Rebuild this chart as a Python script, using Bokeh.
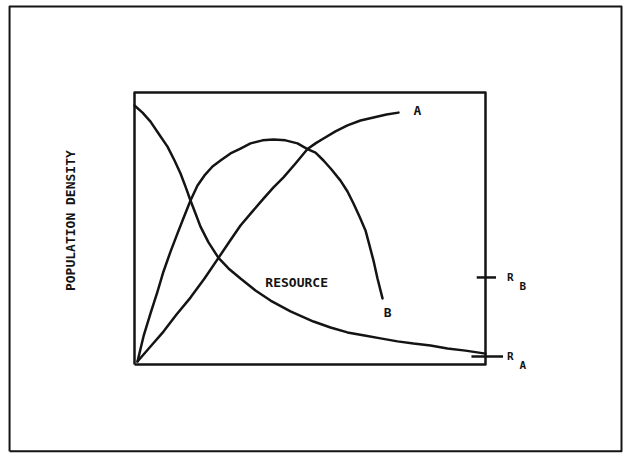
import math
from bokeh.plotting import figure
from bokeh.models import Range1d
from bokeh.core.properties import value
from bokeh.embed import file_html
from bokeh.resources import INLINE

# ---- data (resource axis 0..100, population density 0..100) ----
resource_x = [0, 2.28, 4.56, 6.84, 9.40, 11.40, 13.11, 14.53, 15.95, 17.38, 18.80, 21.08, 23.93,
              26.78, 30.20, 34.47, 38.75, 44.44, 51.00, 55.84, 60.68, 65.53, 70.09, 74.93,
              79.49, 84.33, 89.17, 94.30, 100]
resource_y = [95.2, 92.6, 89.3, 84.9, 80.1, 75.0, 70.2, 65.4, 60.3, 55.5, 50.7, 44.9, 39.2,
              35.3, 31.6, 27.2, 23.5, 19.5, 15.8, 13.6, 11.8, 10.7, 9.6, 8.5,
              7.7, 7.0, 5.9, 5.1, 4.0]

pop_a_x = [0.85, 4.56, 8.26, 11.97, 15.95, 19.94, 23.93, 27.07, 30.20, 33.62, 36.75, 39.60,
           42.45, 45.87, 49.29, 51.57, 53.85, 57.26, 60.68, 64.39, 68.09, 71.79, 75.21]
pop_a_y = [1.1, 6.6, 12.1, 18.4, 24.6, 31.6, 39.2, 45.2, 51.1, 56.3, 61.0, 65.1,
           68.8, 73.9, 79.2, 81.3, 83.1, 85.7, 87.9, 89.7, 90.8, 91.9, 92.6]

pop_b_x = [0.85, 2.56, 4.56, 6.55, 8.26, 10.26, 12.25, 14.25, 15.95, 17.95, 19.94, 22.22,
           24.50, 27.35, 30.20, 33.05, 36.47, 39.60, 43.02, 46.44, 49.29, 51.57, 53.85,
           56.13, 58.69, 60.68, 62.39, 64.10, 65.81, 66.95, 68.09, 69.23, 70.66]
pop_b_y = [1.1, 10.3, 18.8, 26.8, 34.2, 41.5, 48.2, 54.8, 60.3, 65.8, 69.5, 72.8,
           75.0, 77.6, 79.4, 81.3, 82.4, 82.7, 82.4, 81.3, 79.2, 77.9, 75.0,
           71.7, 67.6, 63.6, 59.2, 54.4, 49.3, 43.8, 38.2, 31.6, 24.3]

box_x = [0, 0, 100, 100, 0]
box_y = [0, 100, 100, 0, 0]

r_levels = [32.0, 2.9]          # R_B, R_A on the right edge
r_names = ["B", "A"]

curve_labels = ["A", "B", "RESOURCE"]
curve_label_x = [80.6, 72.1, 46.2]
curve_label_y = [93.4, 19.1, 30.1]

y_title = "POPULATION DENSITY"

# ---- figure ----
p = figure(width=623, height=453, output_backend="svg", toolbar_location=None,
           x_range=Range1d(-38.18, 139.32), y_range=Range1d(-32.72, 133.82),
           x_axis_type=None, y_axis_type=None, min_border=0)
p.xgrid.visible = False
p.ygrid.visible = False
p.outline_line_color = None
p.background_fill_color = "white"
p.border_fill_color = "white"

ink = "#141414"

# outer frame
p.line([-35.6, -35.6, 138.75, 138.75, -35.6], [-31.9, 131.6, 131.6, -31.9, -31.9],
       line_width=2, line_color=ink, line_join="round")

# inner box
p.line(box_x, box_y, line_width=2.5, line_color=ink, line_join="round")
for xs, ys in [(resource_x, resource_y), (pop_a_x, pop_a_y), (pop_b_x, pop_b_y)]:
    p.line(xs, ys, line_width=2.5, line_color=ink, line_join="round", line_cap="round")

# tick marks for R levels on the right edge
p.segment(x0=[97.5, 96.0], y0=r_levels, x1=[103.0, 105.0], y1=r_levels,
          line_width=2.5, line_color=ink)

font = value("DejaVu Sans Mono")
p.text(x=curve_label_x, y=curve_label_y, text=curve_labels, text_font=font,
       text_font_style="bold", text_font_size="13px", text_color=ink,
       text_align="center", text_baseline="middle")

p.text(x=[107.1] * len(r_levels), y=r_levels, text=["R"] * len(r_levels), text_font=font,
       text_font_style="bold", text_font_size="11px", text_color=ink,
       text_align="center", text_baseline="middle")
p.text(x=[110.6] * len(r_levels), y=[v - 3.4 for v in r_levels], text=r_names, text_font=font,
       text_font_style="bold", text_font_size="11px", text_color=ink,
       text_align="center", text_baseline="middle")

p.text(x=[-18.2], y=[52.9], text=[y_title], text_font=font, text_font_style="bold",
       text_font_size="13px", text_color=ink, angle=math.pi / 2,
       text_align="center", text_baseline="middle")

open("out.html", "w").write(file_html(p, INLINE))
